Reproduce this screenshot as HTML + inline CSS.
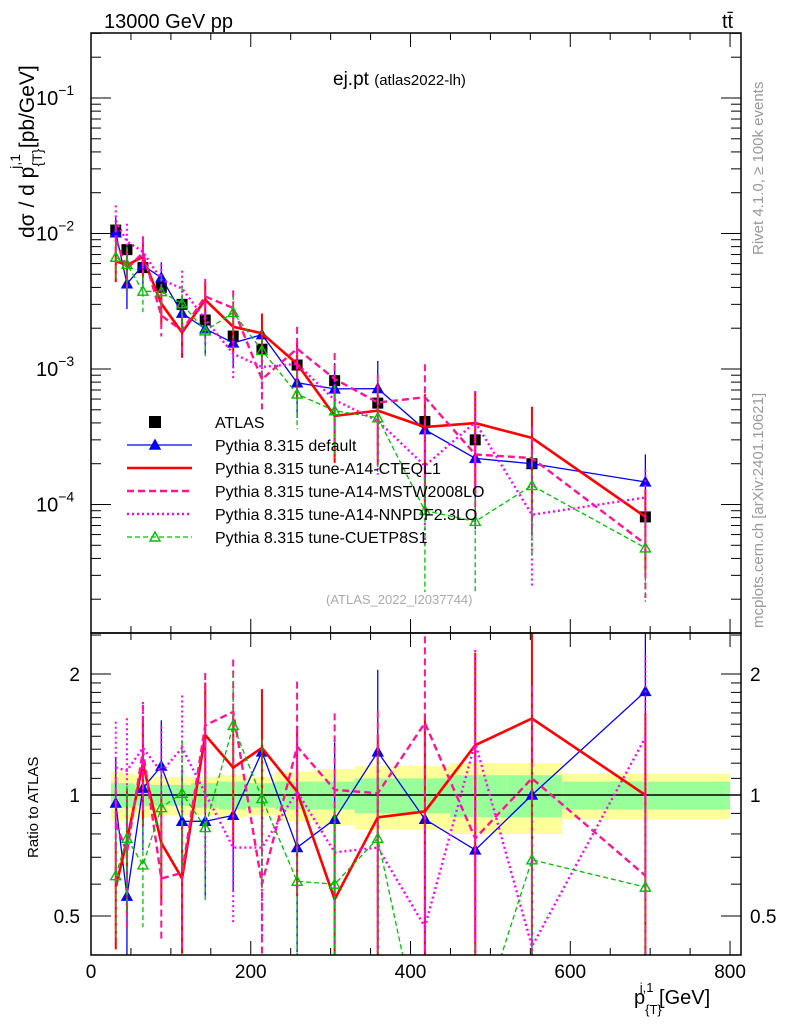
<!DOCTYPE html>
<html><head><meta charset="utf-8"><style>
html,body{margin:0;background:#fff;overflow:hidden;width:786px;height:1024px;}
svg{display:block;font-family:"Liberation Sans",sans-serif;}
</style></head><body>
<svg id="c" width="786" height="1024" viewBox="0 0 786 1024" xmlns="http://www.w3.org/2000/svg">
<defs>
<clipPath id="cm"><rect x="91" y="33" width="650" height="600"/></clipPath>
<clipPath id="cr"><rect x="91" y="633" width="650" height="322"/></clipPath>
</defs>
<g id="ratioBands" clip-path="url(#cr)"></g>
<g id="mainG" clip-path="url(#cm)"></g>
<g id="ratioG" clip-path="url(#cr)"></g>
<g id="axes"></g>
<text x="104" y="28" font-size="20">13000 GeV pp</text>
<text x="722" y="28" font-size="20">tt̄</text>
<text x="333" y="85" font-size="19">ej.pt <tspan font-size="15">(atlas2022-lh)</tspan></text>
<text x="326" y="604" font-size="13" fill="#aaa">(ATLAS_2022_I2037744)</text>
<text transform="translate(763,255) rotate(-90)" font-size="15" fill="#999">Rivet 4.1.0, ≥ 100k events</text>
<text transform="translate(763,628) rotate(-90)" font-size="15" fill="#999">mcplots.cern.ch [arXiv:2401.10621]</text>
<text transform="translate(34,238) rotate(-90)" font-size="21">dσ / d p<tspan dy="8" font-size="14">{T}</tspan><tspan dx="-20" dy="-22" font-size="14">j,1</tspan><tspan dy="14"> [pb/GeV]</tspan></text>
<text transform="translate(38,858) rotate(-90)" font-size="15">Ratio to ATLAS</text>
<text x="634" y="1004" font-size="20">p<tspan dy="10" font-size="13">{T}</tspan><tspan dx="-22" dy="-22" font-size="13">j,1</tspan><tspan dy="12"> [GeV]</tspan></text>
<g id="legend"></g>
</svg>
<script>
const edges=[25,38,53,75,100,125,160,195,230,280,330,390,450,520,590,800];
const centers=[31,45,65,88,114,143,178,214,258,305,359,418,481,552,694];
const atlas=[0.0106,0.0076,0.0056,0.0040,0.0030,0.0023,0.00175,0.00140,0.00107,0.00082,0.00056,0.00041,0.00030,0.00020,0.000081];
const atlasErr=[0.05,0.05,0.05,0.06,0.06,0.07,0.08,0.08,0.09,0.1,0.12,0.14,0.15,0.16,0.18];
const statBand=[0.07,0.07,0.06,0.06,0.06,0.07,0.08,0.07,0.08,0.08,0.1,0.1,0.12,0.12,0.08];
const totBand=[0.14,0.13,0.12,0.11,0.11,0.11,0.12,0.11,0.14,0.16,0.18,0.18,0.2,0.2,0.13];
const rDefault=[0.955,0.56,1.04,1.18,0.86,0.86,0.89,1.28,0.74,0.87,1.28,0.87,0.73,1.0,1.81];
const rCTEQ=[0.59,0.77,1.20,0.76,0.62,1.41,1.17,1.31,1.02,0.55,0.88,0.91,1.33,1.55,1.0];
const rMSTW=[0.85,0.72,1.29,0.62,0.64,1.49,1.61,0.60,1.32,1.03,1.01,1.51,0.78,1.10,0.63];
const rNNPDF=[1.17,1.15,1.31,1.14,1.31,1.01,0.74,0.74,1.02,0.72,0.74,0.47,1.35,0.42,1.39];
const rCUETP=[0.63,0.78,0.67,0.93,1.01,0.83,1.49,0.98,0.61,0.60,0.78,0.22,0.25,0.69,0.59];
const mcErr=[0.3,0.35,0.3,0.3,0.35,0.35,0.35,0.4,0.45,0.55,0.6,0.75,0.7,0.7,0.6];
const xTicks=[0,200,400,600,800];
const mainTicks=[-4,-3,-2,-1];
const ratioTicks=[0.5,1,2];

const NS="http://www.w3.org/2000/svg";
const X=v=>91+v*0.7988;
const YM=v=>369-135.5*(Math.log10(v)+3);
const YR=r=>795-402*Math.log10(r);
function mk(tag,attrs,parent){const e=document.createElementNS(NS,tag);for(const k in attrs)e.setAttribute(k,attrs[k]);parent.appendChild(e);return e;}
const mainG=document.getElementById('mainG'),ratioG=document.getElementById('ratioG'),bandG=document.getElementById('ratioBands'),axG=document.getElementById('axes'),lg=document.getElementById('legend');

for(let i=0;i<centers.length;i++){
  const x0=X(edges[i]),x1=X(edges[i+1]);
  let e=mk('rect',{x:x0,y:YR(1+totBand[i]),width:x1-x0,height:YR(1-totBand[i])-YR(1+totBand[i]),fill:'#ffff99'},bandG);
  
  
  e=mk('rect',{x:x0,y:YR(1+statBand[i]),width:x1-x0,height:YR(1-statBand[i])-YR(1+statBand[i]),fill:'#99ff99'},bandG);
  
  
}
let ln=mk('line',{x1:91,x2:741,y1:YR(1),y2:YR(1),stroke:'#000','stroke-width':1.5},bandG);



const series=[
 {name:'Pythia 8.315 default',key:'default',r:rDefault,col:'#0000ff',w:1.3,dash:'',mark:'tri-fill'},
 {name:'Pythia 8.315 tune-A14-CTEQL1',key:'cteql1',r:rCTEQ,col:'#ff0000',w:2.6,dash:'',mark:''},
 {name:'Pythia 8.315 tune-A14-MSTW2008LO',key:'mstw2008lo',r:rMSTW,col:'#ff1493',w:2.4,dash:'7,4',mark:''},
 {name:'Pythia 8.315 tune-A14-NNPDF2.3LO',key:'nnpdf23lo',r:rNNPDF,col:'#ff00ff',w:2.4,dash:'2,3',mark:''},
 {name:'Pythia 8.315 tune-CUETP8S1',key:'cuetp8s1',r:rCUETP,col:'#00c000',w:1.3,dash:'5,3',mark:'tri-open'}
];
function tri(g,x,y,s,open){
  const p=`${x},${y-5} ${x-5},${y+4} ${x+5},${y+4}`;
  const e=mk('polygon',{points:p,fill:open?'none':s.col,stroke:s.col,'stroke-width':1.4},g);
  
  
}
function drawSeries(g,s,isMain){
  const Y=isMain?(i=>YM(atlas[i]*s.r[i])):(i=>YR(s.r[i]));
  for(let i=0;i<centers.length;i++){
    const x=X(centers[i]);
    const up=isMain?YM(atlas[i]*s.r[i]*(1+mcErr[i])):YR(s.r[i]*(1+mcErr[i]));
    const lo=isMain?YM(Math.max(atlas[i]*s.r[i]*(1-mcErr[i]),1e-7)):YR(Math.max(s.r[i]*(1-mcErr[i]),0.05));
    const e=mk('line',{x1:x,x2:x,y1:up,y2:lo,stroke:s.col,'stroke-width':s.w>2?2:1.3,'stroke-dasharray':s.dash},g);
    
    
  }
  const pts=centers.map((c,i)=>X(c)+','+Y(i)).join(' ');
  const pl=mk('polyline',{points:pts,fill:'none',stroke:s.col,'stroke-width':s.w,'stroke-dasharray':s.dash},g);
  
  
  if(s.mark)for(let i=0;i<centers.length;i++)tri(g,X(centers[i]),Y(i),s,s.mark==='tri-open');
}
for(let i=0;i<centers.length;i++){
  const x=X(centers[i]),y=YM(atlas[i]);
  let e=mk('line',{x1:x,x2:x,y1:YM(atlas[i]*(1+atlasErr[i])),y2:YM(atlas[i]*(1-atlasErr[i])),stroke:'#000','stroke-width':1.5},mainG);
  
  
  e=mk('rect',{x:x-5.5,y:y-5.5,width:11,height:11,fill:'#000'},mainG);
  
  
}
series.forEach(s=>{drawSeries(mainG,s,true);drawSeries(ratioG,s,false);});

for(const [y0,y1] of [[33,633],[633,955]]){
  const r=mk('rect',{x:91,y:y0,width:650,height:y1-y0,fill:'none',stroke:'#000','stroke-width':1.5},axG);
  
  
}
for(let v=0;v<=800;v+=50){
  const x=X(v),L=v%200===0?14:7;
  for(const [yb,d] of [[633,-1],[33,1],[955,-1],[633,1]]){
    mk('line',{x1:x,x2:x,y1:yb,y2:yb+d*L,stroke:'#000','stroke-width':1},axG);
  }
}
xTicks.forEach(v=>{
  const t=mk('text',{x:X(v),y:978,'font-size':19,'text-anchor':'middle'},axG);t.textContent=v;
  
  
});
for(let d=-5;d<=-1;d++)for(let m=1;m<=9;m++){
  const v=m*Math.pow(10,d);const y=YM(v);if(y<33||y>633)continue;
  const L=m===1?20:10;
  mk('line',{x1:91,x2:91+L,y1:y,y2:y,stroke:'#000','stroke-width':1},axG);
  mk('line',{x1:741,x2:741-L,y1:y,y2:y,stroke:'#000','stroke-width':1},axG);
}
mainTicks.forEach(d=>{
  const t=mk('text',{x:36,y:YM(Math.pow(10,d))+7,'font-size':20},axG);
  t.innerHTML='10<tspan dy="-10" font-size="14">'+('−'+(-d))+'</tspan>';
  
  
});
[0.4,0.5,0.6,0.7,0.8,0.9,1,1.1,1.2,1.3,1.4,1.5,1.6,1.7,1.8,1.9,2,2.5].forEach(v=>{
  const y=YR(v);if(y<633||y>955)return;
  const L=(v===0.5||v===1||v===2)?20:10;
  mk('line',{x1:91,x2:91+L,y1:y,y2:y,stroke:'#000','stroke-width':1},axG);
  mk('line',{x1:741,x2:741-L,y1:y,y2:y,stroke:'#000','stroke-width':1},axG);
});
ratioTicks.forEach(v=>{
  for(const [x,a] of [[80,'end'],[750,'start']]){
    const t=mk('text',{x:x,y:YR(v)+7,'font-size':19,'text-anchor':a},axG);t.textContent=v;
    
    
  }
});
let ly=422;
let e=mk('rect',{x:149,y:ly-6,width:12,height:12,fill:'#000'},lg);


let t=mk('text',{x:215,y:ly+6,'font-size':16},lg);t.textContent='ATLAS';


series.forEach((s,k)=>{
  const y=445+23*k;
  const l=mk('line',{x1:127,x2:192,y1:y,y2:y,stroke:s.col,'stroke-width':s.w,'stroke-dasharray':s.dash},lg);
  
  
  if(s.mark)tri(lg,155,y,s,s.mark==='tri-open');
  const tt=mk('text',{x:215,y:y+6,'font-size':16},lg);tt.textContent=s.name;
  
  
});
</script>
</body></html>
